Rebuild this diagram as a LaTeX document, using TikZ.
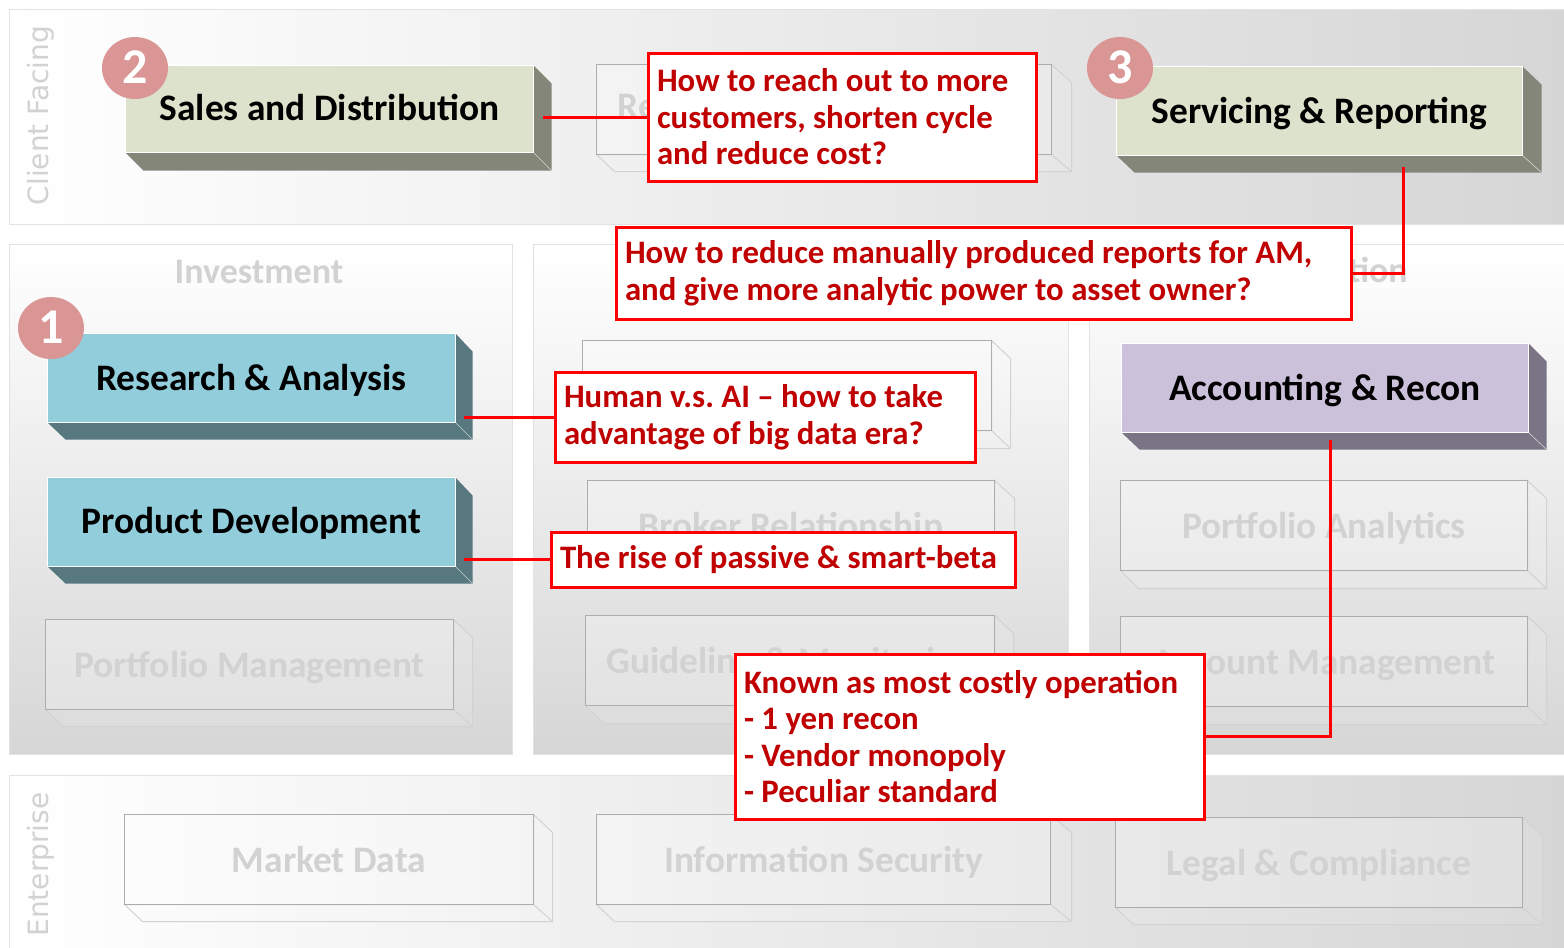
\documentclass[tikz,border=0pt]{standalone}
\usepackage{fontspec}
\usetikzlibrary{shapes.geometric}
\setmainfont{Carlito}
\newfontfamily\dejavu{DejaVu Sans}
\definecolor{paneldark}{HTML}{D6D6D6}
\definecolor{panelline}{HTML}{E2E2E2}
\definecolor{ghosttext}{HTML}{D2D2D2}
\definecolor{ghostedge}{HTML}{ADADAD}
\definecolor{ghostside}{HTML}{D2D2D2}
\definecolor{oliveface}{HTML}{DDE2CC}
\definecolor{oliveside}{HTML}{84867A}
\definecolor{blueface}{HTML}{92CDDC}
\definecolor{blueside}{HTML}{57787F}
\definecolor{purpleface}{HTML}{CCC1DA}
\definecolor{purpleside}{HTML}{7A7485}
\definecolor{calloutred}{HTML}{FF0000}
\definecolor{callouttext}{HTML}{C00000}
\definecolor{badge}{HTML}{D99694}
\frenchspacing
\tikzset{
  x=1pt,y=-1pt,
  panel/.style={draw=panelline,line width=1pt},
  boxtext/.style={font=\fontsize{37.4}{40}\selectfont\bfseries,inner sep=0pt,outer sep=0pt,align=center,text height=25pt,text depth=0pt},
  solidface/.style={boxtext,text=black,draw=white,line width=0.8pt},
  ghostface/.style={boxtext,text=ghosttext,draw=ghostedge,line width=1pt,fill=white,fill opacity=0.25,text opacity=1},
  callout/.style={draw=calloutred,line width=3pt,fill=white,text=callouttext,anchor=north west,
    font=\fontsize{32.8}{36.6}\selectfont\bfseries,inner sep=0pt,outer sep=0pt},
  link/.style={draw=calloutred,line width=3pt},
  badgeshape/.style={ellipse,fill=badge,minimum width=66pt,minimum height=62pt,inner sep=0pt,text=white,
    font=\fontsize{50}{50}\selectfont\bfseries},
  headtext/.style={text=ghosttext,inner sep=0pt,font=\fontsize{36}{36}\selectfont\bfseries},
  sidetext/.style={text=ghosttext,inner sep=0pt,rotate=90,font=\fontsize{28}{28}\selectfont\dejavu},
}
\newcommand\calltext[3]{\raisebox{#2}{\parbox{#1}{\raggedright #3}}}
% name, x1,y1,x2,y2,x3,y3, face colour, side colour (label in \blocklabel)
\newcommand\solidblock[9]{%
  \fill[#9] (#4,#3) -- (#6,#3+18) -- (#6,#7) -- (#4,#5) -- cycle;
  \fill[#9] (#2,#5) -- (#4,#5) -- (#6,#7) -- (#2+18,#7) -- cycle;
  \draw[white!65!#9,line width=0.6pt] (#4,#5) -- (#6,#7);
  \pgfmathsetmacro\cenx{(#2+#4)/2}\pgfmathsetmacro\ceny{(#3+#5)/2}%
  \pgfmathsetmacro\boxw{#4-#2}\pgfmathsetmacro\boxh{#5-#3}%
  \node[solidface,fill=#8,minimum width=\boxw pt,minimum height=\boxh pt] (#1) at (\cenx,\ceny) {\blocklabel};}
\newcommand\ghostblock[8]{%
  \draw[ghostside,line width=1pt,fill=white,fill opacity=0.12] (#4,#3) -- (#6,#3+18) -- (#6,#7) -- (#2+18,#7) -- (#2,#5) -- (#4,#5) -- cycle;
  \draw[ghostside,line width=1pt] (#4,#5) -- (#6,#7);
  \pgfmathsetmacro\cenx{(#2+#4)/2}\pgfmathsetmacro\ceny{(#3+#5)/2}%
  \pgfmathsetmacro\boxw{#4-#2}\pgfmathsetmacro\boxh{#5-#3}%
  \node[ghostface,minimum width=\boxw pt,minimum height=\boxh pt] (#1) at (\cenx,\ceny) {#8};}
\begin{document}
\begin{tikzpicture}
\useasboundingbox (0.5,0.5) rectangle (1564.5,948.5);
\fill[white] (0.5,0.5) rectangle (1564.5,948.5);
% panels
\shade[left color=white,right color=paneldark] (10,10) rectangle (1565,225);
\draw[panel] (1565,10) -- (10,10) -- (10,225) -- (1565,225);
\shade[top color=white,bottom color=paneldark] (10,245) rectangle (513,755);
\draw[panel] (10,245) rectangle (513,755);
\shade[top color=white,bottom color=paneldark] (534,245) rectangle (1069,755);
\draw[panel] (534,245) rectangle (1069,755);
\shade[top color=white,bottom color=paneldark] (1090,245) rectangle (1565,755);
\draw[panel] (1565,245) -- (1090,245) -- (1090,755) -- (1565,755);
\shade[left color=white,right color=paneldark] (10,776) rectangle (1565,949);
\draw[panel] (1565,776) -- (10,776) -- (10,949);
% panel titles
\node[sidetext] (clientfacing) at (41.5,116) {Client Facing};
\node[sidetext] (enterprise) at (41.5,865) {Enterprise};
\node[headtext] (investment) at (259.5,272.5) {Investment};
\node[headtext,anchor=east] (operation) at (1408.5,273.5) {Operation};
% ghost blocks
\ghostblock{relbox}{597}{65}{1052}{155}{1072}{172}{}
\node[boxtext,text=ghosttext,anchor=west] (reltext) at (618,106.5) {Re};
\ghostblock{midtop}{583}{341}{992}{431}{1011}{449}{}
\ghostblock{broker}{588}{481}{995}{571}{1015}{589}{Broker Relationship}
\ghostblock{guideline}{586}{616}{995}{706}{1014}{724}{Guideline \& Monitoring}
\ghostblock{portmgmt}{46}{620}{454}{710}{473}{727}{Portfolio Management}
\ghostblock{portana}{1121}{481}{1528}{571}{1547}{589}{Portfolio Analytics}
\ghostblock{acctmgmt}{1121}{617}{1528}{707}{1547}{725}{Account Management}
\ghostblock{market}{125}{815}{534}{905}{553}{922}{Market Data}
\ghostblock{infosec}{597}{815}{1051}{905}{1072}{922}{Information Security}
\ghostblock{legal}{1116}{818}{1523}{908}{1543}{925}{Legal \& Compliance}
% solid blocks
\def\blocklabel{\raisebox{1pt}{Sales and Distribution}}
\solidblock{sales}{126}{66}{534}{153}{552}{171}{oliveface}{oliveside}
\def\blocklabel{Servicing \& Reporting}
\solidblock{servicing}{1117}{67}{1523}{156}{1542}{173}{oliveface}{oliveside}
\def\blocklabel{\raisebox{0.5pt}{Research \& Analysis}}
\solidblock{research}{48}{334}{456}{423}{473}{440}{blueface}{blueside}
\def\blocklabel{\raisebox{1pt}{Product Development}}
\solidblock{product}{48}{478}{456}{567}{473}{584}{blueface}{blueside}
\def\blocklabel{\raisebox{0.5pt}{Accounting \& Recon}}
\solidblock{accounting}{1122}{344}{1529}{433}{1547}{450}{purpleface}{purpleside}
% callouts
\node[callout,minimum width=388pt,minimum height=128pt] (creach) at (648.5,53.5)
  {\calltext{370pt}{2pt}{How to reach out to more\\customers, shorten cycle\\and reduce cost?}};
\node[callout,minimum width=735pt,minimum height=92pt] (creports) at (616.5,227.5)
  {\calltext{717pt}{-1pt}{How to reduce manually produced reports for AM,\\and give more analytic power to asset owner?}};
\node[callout,minimum width=420pt,minimum height=90pt] (chuman) at (555.5,372.5)
  {\calltext{402pt}{-1pt}{Human v.s. AI -- how to take\\advantage of big data era?}};
\node[callout,minimum width=464pt,minimum height=55pt] (cpassive) at (551.5,532.5)
  {\calltext{446pt}{0pt}{The rise of passive \& smart-beta}};
\node[callout,minimum width=469pt,minimum height=165pt] (ccost) at (735.5,654.5)
  {\calltext{451pt}{2pt}{Known as most costly operation\\- 1 yen recon\\- Vendor monopoly\\- Peculiar standard}};
% connectors
\coordinate (salesout) at (543.5,117.5);
\coordinate (servout) at (1403.5,167.5);
\coordinate (servturn) at (1403.5,273.5);
\coordinate (researchout) at (464.5,417.5);
\coordinate (productout) at (464.5,559.5);
\coordinate (acctout) at (1330.5,440.5);
\coordinate (acctturn) at (1330.5,736.5);
\draw[link] (salesout) -- (creach.west |- salesout);
\draw[link] (servout) -- (servturn) -- (creports.east |- servturn);
\draw[link] (researchout) -- (chuman.west |- researchout);
\draw[link] (productout) -- (cpassive.west |- productout);
\draw[link] (acctout) -- (acctturn) -- (ccost.east |- acctturn);
% badges
\node[badgeshape] (badgetwo) at (135.5,68.5) {\raisebox{1pt}{2}};
\node[badgeshape] (badgeone) at (51.5,328.5) {\raisebox{2pt}{1}};
\node[badgeshape] (badgethree) at (1120.5,68.5) {\raisebox{1pt}{3}};
\end{tikzpicture}
\end{document}
